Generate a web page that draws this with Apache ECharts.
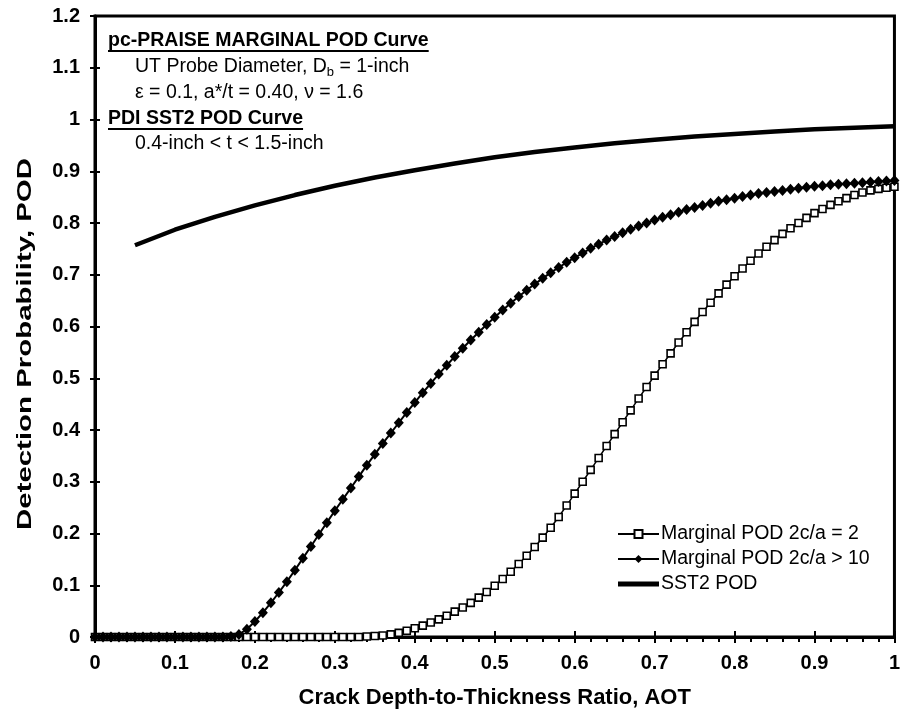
<!DOCTYPE html>
<html>
<head>
<meta charset="utf-8">
<script src="https://cdn.jsdelivr.net/npm/echarts@6/dist/echarts.min.js"></script>
<style>
  html, body { margin: 0; padding: 0; background: #fff; }
  #chart { width: 903px; height: 718px; }
</style>
</head>
<body>
<div id="chart"></div>
<script>
// Crack depth-to-thickness ratio sampled every 0.01 for the marginal POD curves
const aotStep = 0.01;

// Marginal POD, 2c/a = 2 (open squares), AOT = 0.00 ... 1.00
const podAspect2 = [
  0, 0, 0, 0, 0, 0, 0, 0, 0, 0,
  0, 0, 0, 0, 0, 0, 0, 0, 0, 0,
  0, 0, 0, 0, 0, 0, 0, 0, 0, 0,
  0, 0, 0, 0, 0.001, 0.002, 0.003, 0.005, 0.008, 0.012,
  0.017, 0.022, 0.028, 0.034, 0.041, 0.049, 0.057, 0.066, 0.076, 0.087,
  0.099, 0.112, 0.126, 0.141, 0.157, 0.174, 0.192, 0.211, 0.232, 0.254,
  0.277, 0.300, 0.323, 0.346, 0.369, 0.392, 0.415, 0.438, 0.461, 0.483,
  0.505, 0.527, 0.548, 0.569, 0.589, 0.609, 0.628, 0.646, 0.664, 0.681,
  0.697, 0.712, 0.727, 0.741, 0.754, 0.767, 0.779, 0.790, 0.800, 0.810,
  0.819, 0.827, 0.835, 0.842, 0.848, 0.854, 0.859, 0.863, 0.866, 0.868,
  0.870
];

// Marginal POD, 2c/a > 10 (filled diamonds), AOT = 0.00 ... 1.00
const podAspect10 = [
  0, 0, 0, 0, 0, 0, 0, 0, 0, 0,
  0, 0, 0, 0, 0, 0, 0, 0.001, 0.005, 0.015,
  0.030, 0.047, 0.066, 0.086, 0.107, 0.129, 0.152, 0.175, 0.198, 0.221,
  0.244, 0.266, 0.288, 0.310, 0.332, 0.353, 0.374, 0.394, 0.414, 0.434,
  0.453, 0.472, 0.490, 0.508, 0.525, 0.542, 0.558, 0.574, 0.589, 0.604,
  0.618, 0.632, 0.645, 0.658, 0.670, 0.682, 0.693, 0.704, 0.714, 0.724,
  0.733, 0.742, 0.751, 0.759, 0.767, 0.774, 0.781, 0.788, 0.794, 0.800,
  0.806, 0.811, 0.816, 0.821, 0.826, 0.830, 0.834, 0.838, 0.842, 0.845,
  0.848, 0.851, 0.854, 0.857, 0.859, 0.861, 0.863, 0.865, 0.867, 0.869,
  0.871, 0.872, 0.874, 0.875, 0.876, 0.877, 0.878, 0.879, 0.880, 0.881,
  0.882
];

// PDI SST2 POD curve
const sst2Aot = [0.05, 0.10, 0.15, 0.20, 0.25, 0.30, 0.35, 0.40, 0.45, 0.50,
                 0.55, 0.60, 0.65, 0.70, 0.75, 0.80, 0.85, 0.90, 0.95, 1.00];
const sst2Pod = [0.757, 0.787, 0.812, 0.834, 0.854, 0.872, 0.888, 0.902, 0.915, 0.927,
                 0.937, 0.946, 0.954, 0.961, 0.967, 0.972, 0.977, 0.981, 0.984, 0.987];

const seriesNames = ['Marginal POD 2c/a = 2', 'Marginal POD 2c/a > 10', 'SST2 POD'];
const xTitle = 'Crack Depth-to-Thickness Ratio, AOT';
const yTitle = 'Detection Probability, POD';

const toPairs = (vals) => vals.map((v, i) => [+(i * aotStep).toFixed(2), v]);
const sst2Pairs = sst2Aot.map((x, i) => [x, sst2Pod[i]]);

const FONT = 'Liberation Sans, Arial, Helvetica, sans-serif';
const trimNum = (v) => String(+v.toFixed(2));

// Grid geometry
const G = { left: 95, right: 6, top: 16, bottom: 81 };

function textWidth(str, font) {
  const c = document.createElement('canvas').getContext('2d');
  c.font = font;
  return c.measureText(str).width;
}

const chart = echarts.init(document.getElementById('chart'), null, { renderer: 'canvas' });

// Annotation block in the upper-left corner of the plot
const noteX1 = 108, noteX2 = 135;
const noteFont = 19.5;
const head1 = 'pc-PRAISE MARGINAL POD Curve';
const head2 = 'PDI SST2 POD Curve';
const headFont = 'bold ' + noteFont + 'px ' + FONT;
const w1 = textWidth(head1, headFont);
const w2 = textWidth(head2, headFont);

const noteRich = {
  n: { fontSize: noteFont, fontFamily: FONT, color: '#000' },
  sub: { fontSize: 13, fontFamily: FONT, color: '#000', padding: [10, 0, 0, 0] }
};

function noteText(x, y, text, font) {
  return {
    type: 'text', x: x, y: y,
    style: { text: text, font: font, fill: '#000', textAlign: 'left', textVerticalAlign: 'middle', verticalAlign: 'middle' }
  };
}

chart.setOption({
  animation: false,
  backgroundColor: '#fff',
  grid: {
    left: G.left, right: G.right, top: G.top, bottom: G.bottom,
    show: true, borderColor: '#000', borderWidth: 3, backgroundColor: 'transparent'
  },
  xAxis: [
    {
      type: 'value', min: 0, max: 1, interval: 0.1,
      name: xTitle, nameLocation: 'middle', nameGap: 50,
      nameTextStyle: { fontFamily: FONT, fontWeight: 'bold', fontSize: 22, color: '#000' },
      axisLine: { show: true, onZero: false, lineStyle: { color: '#000', width: 3 } },
      axisTick: { show: true, inside: false, length: 6, lineStyle: { color: '#000', width: 2 } },
      minorTick: { show: true, splitNumber: 5, length: 5, lineStyle: { color: '#000', width: 2 } },
      splitLine: { show: false },
      axisLabel: {
        margin: 16, fontFamily: FONT, fontWeight: 'bold', fontSize: 20, color: '#000',
        formatter: trimNum
      }
    },
    {
      type: 'value', min: 0, max: 1, interval: 0.1, position: 'bottom',
      axisLine: { show: false },
      axisTick: { show: true, inside: true, length: 6, lineStyle: { color: '#000', width: 2 } },
      axisLabel: { show: false }, splitLine: { show: false }
    }
  ],
  yAxis: [
    {
      type: 'value', min: 0, max: 1.2, interval: 0.1,
      axisLine: { show: true, onZero: false, lineStyle: { color: '#000', width: 3 } },
      axisTick: { show: true, inside: false, length: 5, lineStyle: { color: '#000', width: 2 } },
      splitLine: { show: false },
      axisLabel: {
        margin: 15, fontFamily: FONT, fontWeight: 'bold', fontSize: 20, color: '#000',
        formatter: trimNum
      }
    },
    {
      type: 'value', min: 0, max: 1.2, interval: 0.1, position: 'left',
      axisLine: { show: false },
      axisTick: { show: true, inside: true, length: 5, lineStyle: { color: '#000', width: 2 } },
      axisLabel: { show: false }, splitLine: { show: false }
    }
  ],
  legend: {
    orient: 'vertical', left: 612, top: 519,
    itemWidth: 41, itemHeight: 10, itemGap: 5,
    data: [
      { name: seriesNames[0] },
      { name: seriesNames[1] },
      { name: seriesNames[2], icon: 'path://M0,0H41V5H0Z' }
    ],
    textStyle: { fontFamily: FONT, fontSize: 19.5, color: '#000', padding: [0, 0, 0, -3], lineHeight: 20 }
  },
  graphic: [
    noteText(noteX1, 41, head1, headFont),
    {
      type: 'line', shape: { x1: noteX1, y1: 51, x2: noteX1 + w1, y2: 51 },
      style: { stroke: '#000', lineWidth: 1.8 }
    },
    {
      type: 'text', x: noteX2, y: 67,
      style: {
        text: '{n|UT Probe Diameter, D}{sub|b}{n| = 1-inch}',
        rich: noteRich, textVerticalAlign: 'middle', verticalAlign: 'middle'
      }
    },
    noteText(noteX2, 93, 'ε = 0.1, a*/t = 0.40, ν = 1.6', noteFont + 'px ' + FONT),
    noteText(noteX1, 119, head2, headFont),
    {
      type: 'line', shape: { x1: noteX1, y1: 129, x2: noteX1 + w2, y2: 129 },
      style: { stroke: '#000', lineWidth: 1.8 }
    },
    noteText(noteX2, 144, '0.4-inch < t < 1.5-inch', noteFont + 'px ' + FONT),
    // Vertical axis title, drawn tall and narrow
    {
      type: 'text', x: 25, y: 344, rotation: Math.PI / 2, scaleX: 1.4,
      style: {
        text: yTitle, font: 'bold 21px ' + FONT, fill: '#000',
        textAlign: 'center', align: 'center', textVerticalAlign: 'middle', verticalAlign: 'middle'
      }
    }
  ],
  series: [
    {
      name: seriesNames[0], type: 'line', data: toPairs(podAspect2),
      symbol: 'rect', symbolSize: 7, showSymbol: true,
      lineStyle: { color: '#000', width: 1.5 },
      itemStyle: { color: '#fff', borderColor: '#000', borderWidth: 1.6 },
      z: 3
    },
    {
      name: seriesNames[1], type: 'line', data: toPairs(podAspect10),
      symbol: 'diamond', symbolSize: [10, 11], showSymbol: true,
      lineStyle: { color: '#000', width: 2 },
      itemStyle: { color: '#000', borderColor: '#000', borderWidth: 0 },
      z: 4
    },
    {
      name: seriesNames[2], type: 'line', data: sst2Pairs,
      symbol: 'none',
      lineStyle: { color: '#000', width: 4.5, join: 'round' },
      itemStyle: { color: '#000' },
      z: 2
    }
  ]
});
</script>
</body>
</html>
